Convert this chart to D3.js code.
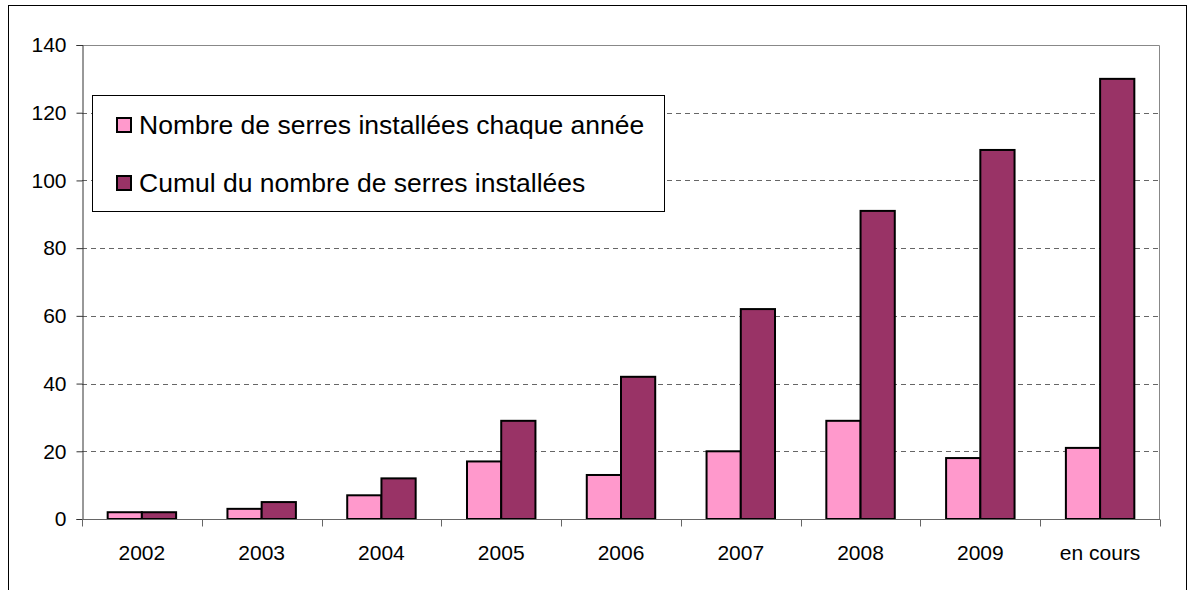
<!DOCTYPE html>
<html>
<head>
<meta charset="utf-8">
<script src="https://cdn.jsdelivr.net/npm/d3@7"></script>
<style>
  body { margin: 0; background: #fff; }
  svg { display: block; font-family: "Liberation Sans", Arial, sans-serif; }
</style>
</head>
<body>
<div id="chart"></div>
<script>
const categories = ["2002", "2003", "2004", "2005", "2006", "2007", "2008", "2009", "en cours"];
const seriesNames = ["Nombre de serres installées chaque année", "Cumul du nombre de serres installées"];
const annual = [2, 3, 7, 17, 13, 20, 29, 18, 21];
const cumul = [2, 5, 12, 29, 42, 62, 91, 109, 130];
const yTicks = [0, 20, 40, 60, 80, 100, 120, 140];
const colors = ["#ff99cc", "#993366"];

const W = 1194, H = 590;
const margin = {top: 45, right: 34, bottom: 71, left: 82};
const width = W - margin.left - margin.right,
  height = H - margin.top - margin.bottom;

const svg = d3.select("#chart").append("svg").attr("width", W).attr("height", H);

// outer chart border
svg.append("rect").attr("x", 8.5).attr("y", 5.5).attr("width", 1178).attr("height", 620)
  .attr("fill", "none").attr("stroke", "#000").attr("stroke-width", 1);

const g = svg.append("g").attr("transform", "translate(" + margin.left + "," + margin.top + ")");

const x = d3.scaleBand().domain(categories).range([0, width]).padding(0);
const y = d3.scaleLinear().domain([0, 140]).range([height, 0]);

// gridlines
g.selectAll(".grid").data(yTicks.filter(d => d > 0 && d < 140)).enter().append("line")
  .attr("x1", 0).attr("x2", width)
  .attr("y1", d => Math.round(y(d)) + 0.5).attr("y2", d => Math.round(y(d)) + 0.5)
  .attr("stroke", "#666").attr("stroke-dasharray", "5,4");

// plot area border (top + right)
g.append("path").attr("d", "M0,0.5H" + (width - 0.5) + "V" + height)
  .attr("fill", "none").attr("stroke", "#888").attr("stroke-width", 1);

// bars
const barW = x.bandwidth() / 3.5;
const series = [annual, cumul];
series.forEach(function(vals, s) {
  g.selectAll(".bar" + s).data(categories).enter().append("rect")
    .attr("x", (d) => x(d) + x.bandwidth() / 2 - barW + s * barW)
    .attr("y", (d, i) => y(vals[i]))
    .attr("width", barW)
    .attr("height", (d, i) => height - y(vals[i]))
    .attr("fill", colors[s])
    .attr("stroke", "#000").attr("stroke-width", 2);
});

// y axis
const yAxis = g.append("g").attr("transform", "translate(0.5,0)")
  .call(d3.axisLeft(y).tickValues(yTicks).tickSize(6).tickPadding(10));
yAxis.select(".domain").attr("stroke", "#333");
yAxis.selectAll(".tick line").attr("stroke", "#333");
yAxis.selectAll("text").style("font-size", "21px").attr("fill", "#000")
  .style("font-family", "'Liberation Sans', Arial, sans-serif");

// x axis with ticks at band boundaries
const xAxis = g.append("g").attr("transform", "translate(0," + (height + 0.5) + ")");
xAxis.append("line").attr("x1", 0).attr("x2", width).attr("stroke", "#666");
xAxis.selectAll(".xt").data(d3.range(categories.length + 1)).enter().append("line")
  .attr("x1", i => Math.round(i * x.step()) + 0.5).attr("x2", i => Math.round(i * x.step()) + 0.5)
  .attr("y1", 0).attr("y2", 7).attr("stroke", "#666");
xAxis.selectAll(".xl").data(categories).enter().append("text")
  .attr("x", d => x(d) + x.bandwidth() / 2).attr("y", 40)
  .attr("text-anchor", "middle").style("font-size", "21px").text(d => d);

// legend
const lg = svg.append("g");
lg.append("rect").attr("x", 92.5).attr("y", 95.5).attr("width", 572).attr("height", 116)
  .attr("fill", "#fff").attr("stroke", "#000").attr("stroke-width", 1);
seriesNames.forEach(function(name, i) {
  const yy = 125 + i * 58;
  lg.append("rect").attr("x", 117).attr("y", yy - 7).attr("width", 14).attr("height", 14)
    .attr("fill", colors[i]).attr("stroke", "#000").attr("stroke-width", 2);
  lg.append("text").attr("x", 139).attr("y", yy + 9).style("font-size", "26.5px").text(name);
});
</script>
</body>
</html>
